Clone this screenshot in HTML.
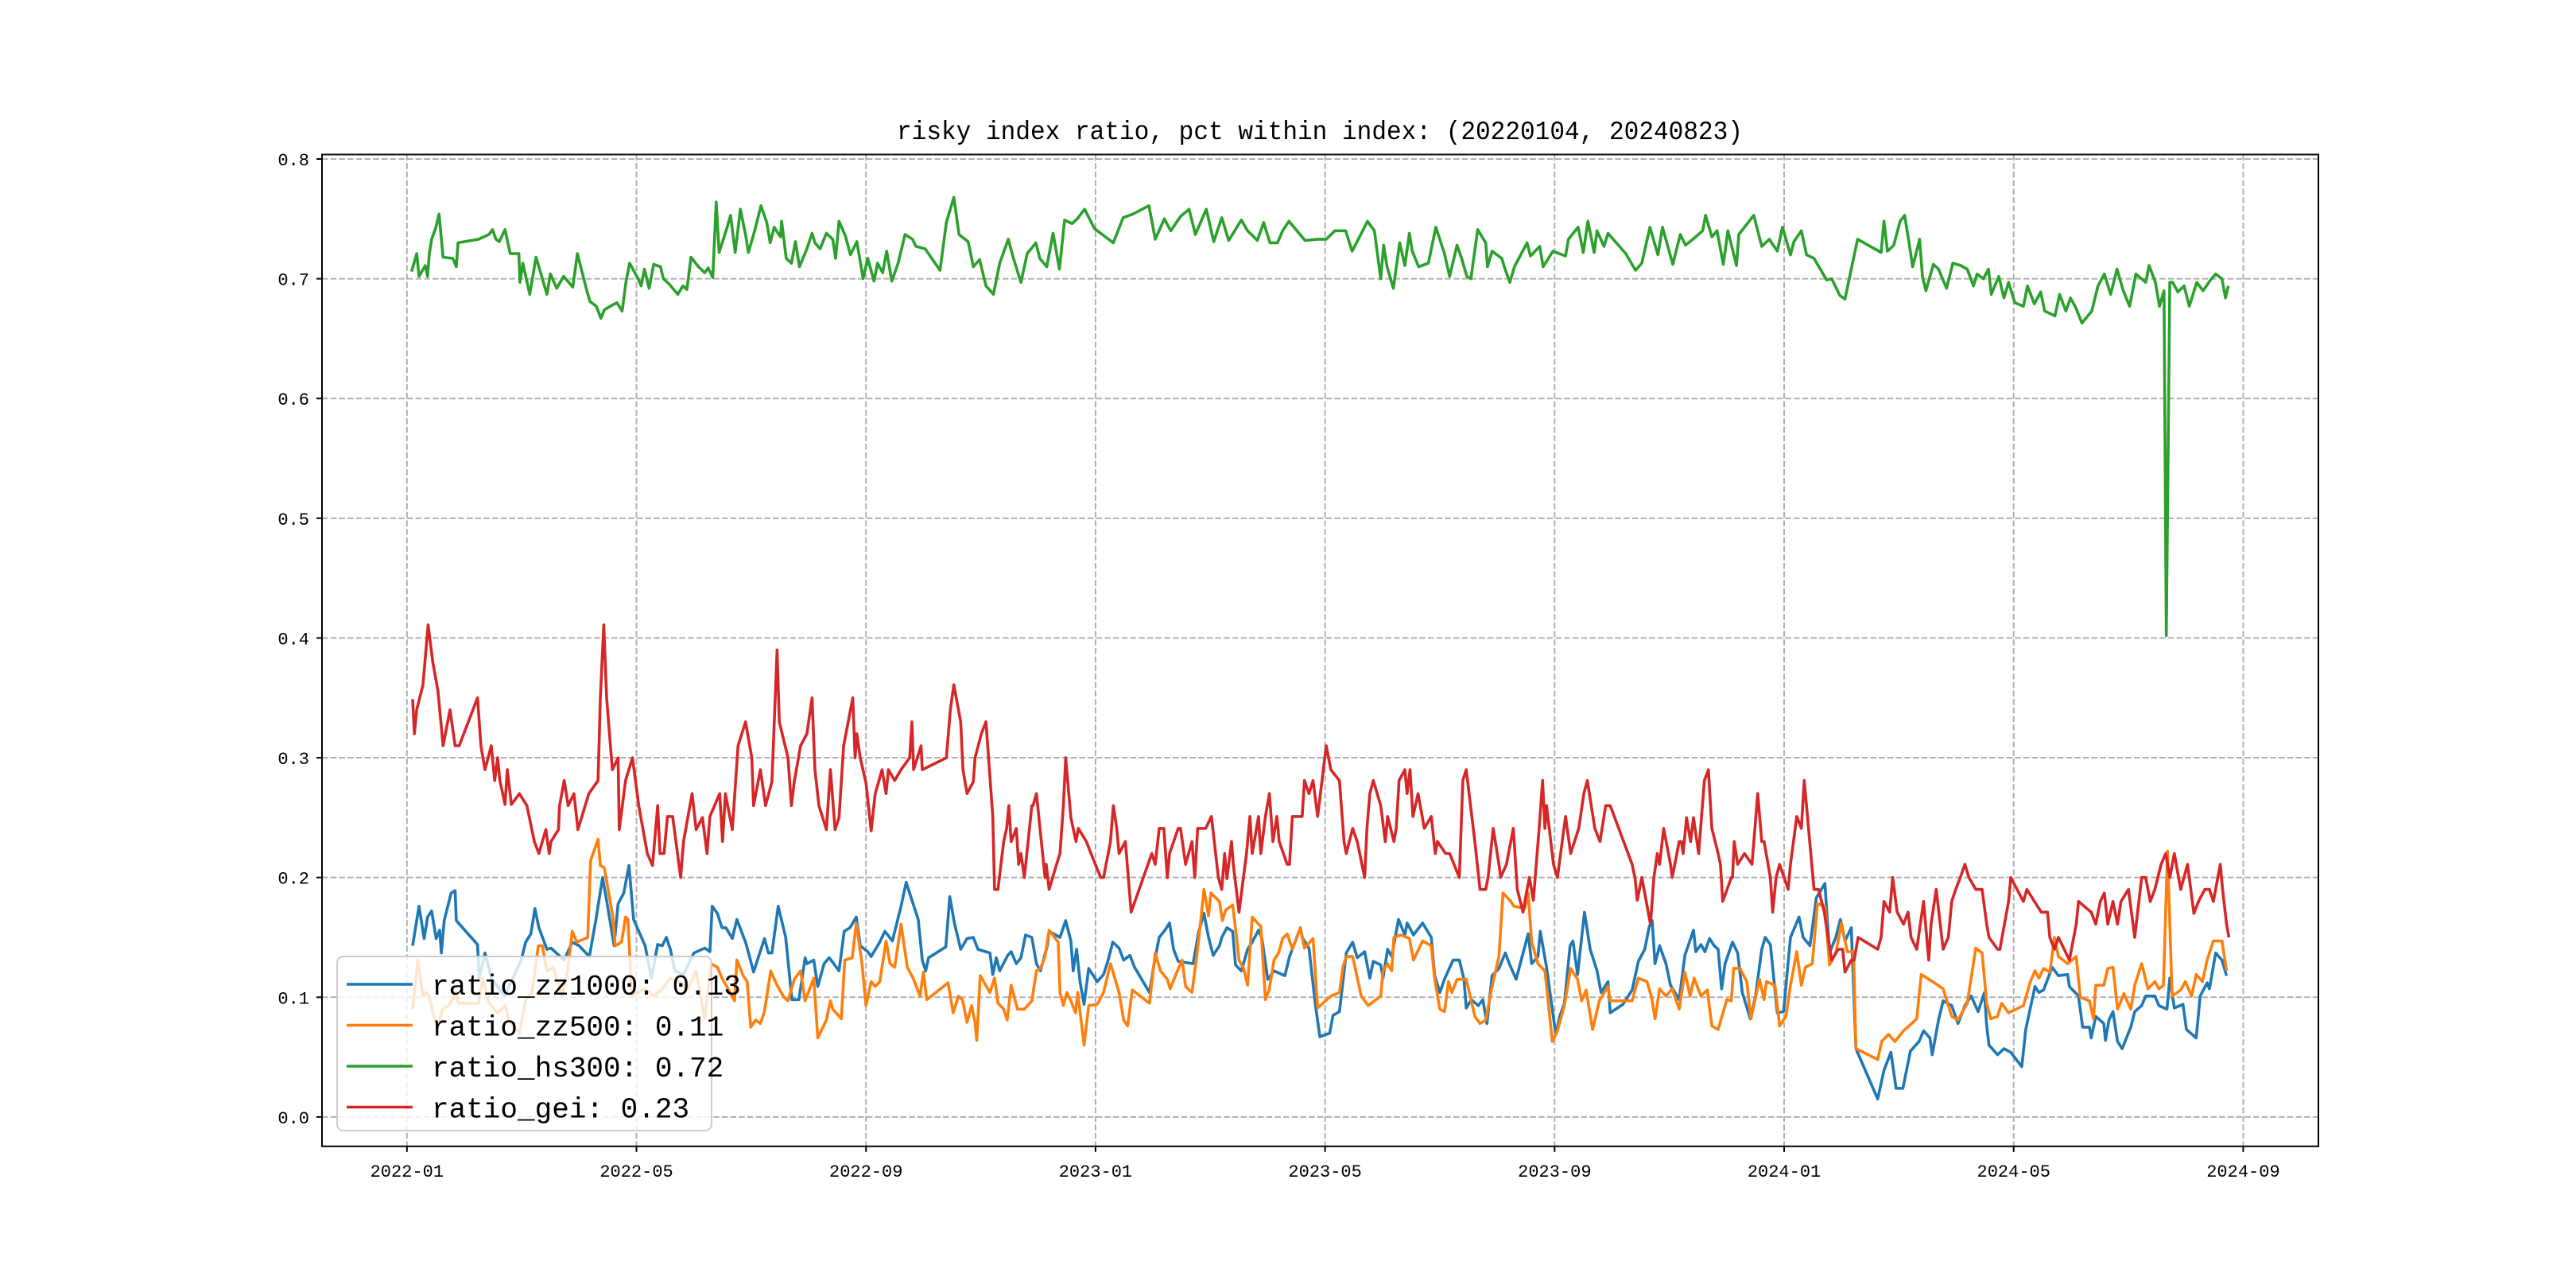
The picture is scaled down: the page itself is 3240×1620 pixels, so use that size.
<!DOCTYPE html>
<html><head><meta charset="utf-8">
<style>
html,body{margin:0;padding:0;background:#fff;}
svg{display:block;}
text{font-family:"Liberation Mono","Noto Sans CJK SC",monospace;}
</style></head>
<body>
<svg id="chart" width="3240" height="1620" viewBox="0 0 3240 1620" xmlns="http://www.w3.org/2000/svg">
<rect width="3240" height="1620" fill="#fff"/>
<text x="1660" y="175" text-anchor="middle" font-size="33" textLength="1064" lengthAdjust="spacingAndGlyphs" fill="#000">risky index ratio, pct within index: (20220104, 20240823)</text>
<g id="grid"></g>
<g id="series"></g>
<rect x="405" y="194.4" width="2511" height="1247.4" fill="none" stroke="#000" stroke-width="2"/>
<g id="ticks"></g>
<g id="legend"></g>
</svg>
<script>
// months since 2022-01-01
const xTickVals=[0,4,8,12,16,20,24,28,32];
const xTickLabels=["2022-01","2022-05","2022-09","2023-01","2023-05","2023-09","2024-01","2024-05","2024-09"];
const yTickVals=[0,0.1,0.2,0.3,0.4,0.5,0.6,0.7,0.8];
const yTickLabels=["0.0","0.1","0.2","0.3","0.4","0.5","0.6","0.7","0.8"];
const seriesNames=["ratio_zz1000: 0.13","ratio_zz500: 0.11","ratio_hs300: 0.72","ratio_gei: 0.23"];

const zz1000T=[.10,.21,.30,.36,.43,.51,.57,.60,.65,.77,.84,.86,1.23,1.26,1.36,1.47,1.70,1.99,2.07,2.16,2.23,2.30,2.44,2.51,2.74,2.88,3.00,3.18,3.29,3.41,3.49,3.61,3.68,3.78,3.87,3.95,4.15,4.26,4.37,4.45,4.52,4.59,4.67,4.82,5.00,5.19,5.28,5.32,5.41,5.49,5.56,5.67,5.75,5.90,5.97,6.04,6.23,6.30,6.36,6.47,6.60,6.71,6.83,6.94,6.97,7.09,7.16,7.27,7.36,7.53,7.62,7.72,7.83,7.90,8.03,8.09,8.24,8.33,8.46,8.61,8.70,8.80,8.91,8.98,9.04,9.09,9.39,9.46,9.54,9.65,9.76,9.87,9.95,10.16,10.21,10.27,10.33,10.47,10.53,10.62,10.70,10.78,10.89,10.97,11.04,11.16,11.19,11.38,11.48,11.57,11.61,11.67,11.73,11.80,11.88,12.03,12.14,12.22,12.30,12.41,12.49,12.60,12.68,12.94,13.02,13.11,13.21,13.29,13.36,13.44,13.70,13.80,13.89,13.97,14.05,14.16,14.20,14.29,14.39,14.44,14.54,14.65,14.73,14.84,14.90,15.00,15.11,15.30,15.38,15.57,15.60,15.72,15.83,15.91,16.08,16.14,16.25,16.37,16.48,16.56,16.69,16.78,16.84,16.97,17.01,17.09,17.16,17.28,17.39,17.43,17.54,17.70,17.85,17.91,18.00,18.08,18.23,18.34,18.42,18.46,18.55,18.67,18.75,18.82,18.91,19.03,19.14,19.22,19.33,19.44,19.54,19.60,19.71,19.75,19.86,20.02,20.09,20.17,20.27,20.32,20.40,20.52,20.62,20.74,20.81,20.93,20.97,21.19,21.35,21.46,21.57,21.65,21.70,21.75,21.83,21.94,22.02,22.17,22.27,22.42,22.46,22.55,22.62,22.70,22.78,22.85,22.91,22.97,23.10,23.19,23.27,23.41,23.50,23.61,23.67,23.76,23.88,23.99,24.11,24.26,24.33,24.45,24.56,24.71,24.79,24.90,24.98,25.06,25.17,25.25,25.63,25.74,25.86,25.95,26.07,26.20,26.35,26.43,26.54,26.58,26.69,26.77,26.92,27.03,27.15,27.26,27.38,27.49,27.53,27.57,27.72,27.83,27.95,28.14,28.21,28.37,28.44,28.52,28.67,28.78,28.94,28.97,29.13,29.20,29.32,29.35,29.43,29.57,29.60,29.66,29.73,29.81,29.89,30.04,30.11,30.23,30.30,30.46,30.53,30.67,30.72,30.80,30.95,31.01,31.18,31.25,31.37,31.41,31.52,31.63,31.71];
const zz1000V=[.143,.176,.149,.167,.172,.149,.156,.137,.164,.187,.189,.164,.144,.116,.137,.116,.101,.131,.146,.153,.174,.158,.140,.141,.131,.146,.143,.134,.164,.200,.178,.143,.178,.187,.210,.165,.143,.116,.144,.143,.150,.140,.122,.119,.137,.141,.138,.176,.170,.158,.158,.149,.165,.146,.134,.121,.149,.137,.137,.176,.150,.098,.098,.133,.128,.131,.109,.128,.133,.122,.155,.158,.167,.143,.138,.134,.146,.155,.147,.176,.196,.181,.165,.131,.122,.133,.142,.184,.162,.140,.149,.150,.140,.137,.119,.133,.122,.135,.138,.128,.133,.152,.150,.128,.122,.143,.155,.150,.164,.147,.122,.140,.113,.094,.124,.113,.119,.131,.146,.141,.131,.135,.125,.104,.128,.150,.156,.162,.140,.130,.128,.155,.170,.150,.135,.143,.150,.158,.155,.127,.122,.140,.146,.156,.149,.115,.122,.118,.134,.158,.150,.141,.094,.067,.070,.085,.088,.137,.146,.133,.138,.116,.130,.127,.116,.140,.134,.165,.152,.162,.152,.162,.150,.118,.104,.115,.131,.131,.115,.091,.098,.093,.098,.078,.118,.124,.137,.127,.115,.135,.153,.128,.134,.155,.125,.069,.084,.095,.143,.147,.119,.171,.140,.122,.104,.113,.087,.094,.106,.130,.140,.159,.164,.128,.143,.128,.110,.098,.135,.156,.138,.144,.138,.149,.143,.140,.107,.128,.146,.137,.104,.082,.101,.140,.150,.144,.087,.088,.150,.167,.150,.143,.183,.195,.137,.150,.165,.147,.158,.057,.015,.039,.054,.024,.024,.055,.063,.072,.066,.052,.081,.097,.093,.078,.093,.101,.088,.104,.076,.060,.052,.057,.054,.042,.073,.109,.104,.106,.125,.118,.119,.109,.101,.075,.075,.066,.084,.078,.064,.081,.088,.063,.057,.075,.088,.093,.101,.101,.093,.090,.116,.091,.094,.073,.066,.101,.112,.107,.137,.131,.118];

const zz500T=[.10,.19,.28,.34,.39,.45,.54,.62,.73,.86,.89,1.25,1.32,1.43,1.58,1.72,1.77,1.96,2.07,2.18,2.29,2.36,2.44,2.55,2.70,2.80,2.88,2.96,3.15,3.20,3.33,3.37,3.44,3.59,3.63,3.74,3.81,3.85,3.92,4.15,4.30,4.45,4.59,4.74,4.89,5.04,5.19,5.30,5.41,5.49,5.63,5.71,5.75,5.86,5.93,5.99,6.08,6.16,6.23,6.34,6.45,6.57,6.64,6.75,6.86,6.94,7.09,7.16,7.31,7.38,7.42,7.57,7.63,7.76,7.83,7.93,8.00,8.09,8.16,8.24,8.35,8.42,8.50,8.61,8.72,8.83,8.94,9.00,9.06,9.43,9.52,9.61,9.68,9.76,9.84,9.90,9.93,9.99,10.16,10.24,10.30,10.40,10.46,10.53,10.64,10.76,10.89,10.97,11.04,11.12,11.19,11.35,11.38,11.44,11.50,11.57,11.65,11.69,11.80,11.88,12.03,12.14,12.26,12.41,12.49,12.56,12.64,12.94,13.04,13.13,13.25,13.30,13.40,13.51,13.57,13.68,13.76,13.82,13.89,13.97,14.01,14.16,14.21,14.27,14.39,14.46,14.50,14.58,14.65,14.73,14.88,14.96,15.03,15.11,15.19,15.26,15.34,15.43,15.57,15.64,15.79,15.87,16.10,16.25,16.31,16.37,16.48,16.63,16.75,16.97,17.01,17.09,17.16,17.20,17.32,17.47,17.54,17.70,17.85,17.91,18.00,18.08,18.15,18.21,18.30,18.46,18.61,18.70,18.80,18.91,19.03,19.10,19.22,19.29,19.48,19.54,19.60,19.71,19.83,19.96,20.05,20.17,20.28,20.40,20.47,20.55,20.66,20.78,20.93,20.97,21.35,21.46,21.61,21.69,21.75,21.83,21.94,22.05,22.17,22.27,22.36,22.43,22.55,22.66,22.74,22.85,23.00,23.08,23.12,23.23,23.35,23.42,23.57,23.65,23.69,23.84,23.92,24.03,24.11,24.22,24.30,24.37,24.49,24.58,24.71,24.79,24.90,25.00,25.10,25.21,25.25,25.63,25.70,25.82,25.93,26.08,26.31,26.39,26.62,26.77,26.92,27.03,27.19,27.34,27.45,27.53,27.60,27.72,27.79,27.91,28.17,28.29,28.37,28.44,28.52,28.63,28.71,28.78,28.94,29.09,29.16,29.32,29.39,29.43,29.57,29.64,29.73,29.81,29.92,30.04,30.11,30.23,30.34,30.46,30.53,30.61,30.68,30.76,30.91,30.99,31.10,31.18,31.29,31.37,31.48,31.63,31.71];
const zz500V=[.090,.131,.101,.104,.101,.087,.075,.090,.093,.104,.095,.095,.116,.095,.087,.093,.081,.070,.098,.104,.143,.143,.122,.125,.101,.122,.155,.146,.150,.214,.232,.210,.208,.167,.143,.146,.167,.165,.101,.107,.101,.107,.116,.113,.107,.122,.082,.128,.125,.116,.104,.097,.131,.118,.113,.075,.081,.078,.088,.122,.110,.100,.097,.115,.122,.097,.116,.066,.081,.097,.090,.082,.131,.133,.162,.128,.093,.113,.109,.113,.147,.128,.125,.161,.125,.115,.101,.121,.098,.112,.087,.101,.098,.079,.093,.079,.064,.118,.104,.116,.095,.090,.081,.110,.090,.090,.097,.122,.124,.134,.156,.146,.104,.093,.104,.097,.087,.104,.060,.093,.094,.104,.128,.104,.081,.076,.106,.095,.137,.122,.115,.107,.119,.131,.109,.104,.133,.158,.190,.168,.187,.180,.164,.173,.177,.149,.131,.124,.110,.167,.159,.098,.107,.131,.137,.149,.153,.140,.158,.141,.149,.091,.101,.104,.125,.134,.134,.101,.093,.101,.122,.128,.122,.150,.152,.149,.131,.147,.143,.115,.090,.088,.113,.104,.115,.115,.084,.078,.081,.109,.134,.187,.181,.176,.174,.187,.146,.128,.122,.063,.072,.093,.124,.115,.097,.106,.073,.097,.109,.097,.097,.116,.113,.100,.082,.107,.101,.107,.090,.121,.101,.116,.101,.106,.076,.073,.098,.097,.124,.124,.113,.082,.115,.098,.113,.110,.076,.084,.110,.138,.110,.125,.128,.178,.176,.127,.137,.162,.138,.138,.057,.048,.063,.069,.063,.072,.082,.119,.112,.107,.084,.081,.095,.141,.137,.095,.082,.084,.095,.087,.093,.113,.122,.116,.124,.121,.150,.134,.128,.134,.100,.097,.082,.110,.110,.124,.125,.090,.103,.090,.110,.128,.107,.113,.107,.110,.222,.101,.106,.113,.101,.119,.113,.131,.147,.147,.122];

const hs300T=[.08,.17,.21,.32,.36,.39,.43,.50,.56,.63,.80,.86,.89,1.25,1.43,1.49,1.55,1.61,1.71,1.80,1.95,1.97,2.02,2.14,2.25,2.36,2.44,2.50,2.61,2.73,2.89,2.97,3.14,3.19,3.30,3.38,3.44,3.58,3.66,3.75,3.82,3.88,4.03,4.08,4.14,4.22,4.30,4.42,4.47,4.58,4.72,4.81,4.88,4.95,5.08,5.19,5.25,5.33,5.39,5.44,5.58,5.64,5.72,5.81,5.90,5.95,6.06,6.17,6.27,6.33,6.40,6.51,6.53,6.61,6.70,6.77,6.84,6.97,7.06,7.11,7.20,7.31,7.42,7.47,7.53,7.64,7.73,7.84,7.95,8.03,8.14,8.20,8.29,8.36,8.45,8.56,8.68,8.81,8.87,9.03,9.29,9.40,9.53,9.62,9.78,9.87,9.98,10.09,10.22,10.33,10.48,10.57,10.70,10.81,10.96,11.03,11.15,11.26,11.37,11.46,11.59,11.68,11.81,11.98,12.09,12.31,12.48,12.65,12.93,13.04,13.20,13.31,13.48,13.63,13.74,13.93,14.06,14.20,14.32,14.54,14.65,14.82,14.93,15.04,15.17,15.26,15.37,15.51,15.65,15.87,16.02,16.17,16.36,16.47,16.58,16.74,16.86,16.97,17.02,17.08,17.19,17.30,17.39,17.47,17.52,17.63,17.80,17.93,18.08,18.17,18.30,18.38,18.47,18.54,18.66,18.80,18.83,18.91,19.08,19.13,19.22,19.30,19.52,19.58,19.74,19.80,19.97,20.19,20.24,20.41,20.50,20.58,20.69,20.74,20.86,20.93,21.24,21.41,21.52,21.66,21.80,21.88,22.06,22.19,22.28,22.41,22.58,22.63,22.74,22.83,22.94,23.02,23.17,23.21,23.39,23.47,23.61,23.74,23.88,23.97,24.11,24.17,24.30,24.39,24.52,24.63,24.74,24.83,24.97,25.06,25.13,25.28,25.69,25.74,25.80,25.91,26.02,26.10,26.17,26.24,26.36,26.41,26.47,26.60,26.69,26.83,26.94,27.08,27.19,27.30,27.36,27.47,27.56,27.61,27.74,27.83,27.91,28.02,28.17,28.24,28.36,28.47,28.54,28.72,28.80,28.91,28.99,29.08,29.19,29.36,29.47,29.58,29.69,29.80,29.91,30.02,30.13,30.30,30.36,30.47,30.54,30.62,30.66,30.72,30.77,30.86,30.97,31.06,31.19,31.30,31.43,31.52,31.63,31.69,31.74];
const hs300V=[.706,.721,.702,.711,.702,.721,.733,.742,.754,.718,.717,.710,.730,.733,.737,.741,.733,.731,.741,.721,.721,.697,.713,.687,.718,.700,.687,.704,.692,.702,.693,.721,.689,.681,.677,.667,.674,.678,.680,.673,.698,.713,.700,.694,.708,.692,.712,.710,.700,.695,.687,.694,.691,.718,.710,.705,.709,.701,.764,.722,.743,.753,.722,.758,.737,.722,.740,.761,.747,.730,.743,.735,.748,.717,.713,.731,.710,.725,.738,.730,.725,.738,.733,.717,.748,.736,.720,.731,.700,.717,.698,.713,.705,.723,.698,.713,.737,.733,.727,.725,.707,.747,.768,.737,.731,.710,.716,.694,.687,.713,.733,.717,.697,.721,.730,.717,.710,.738,.708,.749,.746,.750,.758,.742,.738,.730,.751,.754,.761,.733,.750,.740,.752,.758,.737,.758,.731,.751,.732,.749,.740,.732,.747,.730,.730,.740,.748,.740,.732,.733,.733,.740,.740,.723,.733,.748,.740,.700,.728,.710,.692,.730,.711,.738,.723,.710,.713,.743,.721,.702,.728,.717,.702,.700,.741,.730,.710,.723,.717,.709,.697,.710,.730,.719,.727,.710,.723,.719,.733,.743,.722,.748,.722,.740,.727,.738,.721,.707,.713,.743,.720,.743,.712,.737,.728,.733,.740,.753,.735,.740,.712,.740,.711,.737,.748,.753,.727,.733,.723,.743,.720,.731,.740,.720,.717,.708,.699,.700,.686,.683,.699,.733,.722,.748,.723,.728,.748,.753,.732,.710,.733,.702,.690,.712,.708,.692,.713,.711,.708,.694,.704,.700,.708,.687,.702,.684,.697,.680,.677,.694,.679,.689,.673,.669,.687,.673,.684,.676,.663,.673,.694,.704,.687,.708,.690,.677,.704,.697,.711,.697,.677,.690,.402,.697,.697,.689,.694,.677,.697,.690,.699,.704,.700,.684,.694];

const geiT=[.10,.13,.17,.28,.37,.45,.54,.63,.75,.84,.91,1.23,1.29,1.36,1.47,1.53,1.58,1.62,1.71,1.75,1.82,1.96,2.09,2.22,2.30,2.42,2.48,2.51,2.64,2.66,2.74,2.81,2.91,2.98,3.17,3.33,3.37,3.43,3.48,3.58,3.68,3.70,3.81,3.93,4.04,4.19,4.28,4.37,4.41,4.48,4.54,4.63,4.77,4.82,4.97,5.04,5.15,5.23,5.28,5.45,5.50,5.55,5.67,5.77,5.90,6.01,6.04,6.16,6.25,6.36,6.45,6.49,6.64,6.70,6.75,6.86,6.97,7.06,7.11,7.18,7.31,7.38,7.46,7.53,7.61,7.77,7.81,7.84,7.90,8.00,8.09,8.16,8.28,8.35,8.39,8.50,8.61,8.76,8.80,8.83,8.96,8.98,9.40,9.47,9.53,9.65,9.69,9.76,9.87,9.90,10.01,10.09,10.21,10.24,10.30,10.40,10.45,10.49,10.53,10.62,10.66,10.70,10.76,10.89,10.91,10.97,11.12,11.14,11.19,11.32,11.38,11.44,11.48,11.57,11.61,11.66,11.70,11.84,11.92,12.09,12.14,12.26,12.31,12.37,12.41,12.52,12.62,12.98,13.04,13.11,13.19,13.25,13.29,13.44,13.48,13.57,13.68,13.73,13.78,13.92,14.02,14.14,14.20,14.25,14.29,14.37,14.40,14.50,14.63,14.69,14.73,14.84,14.88,14.96,15.03,15.09,15.16,15.20,15.34,15.38,15.43,15.60,15.64,15.72,15.79,15.87,16.02,16.10,16.25,16.33,16.37,16.48,16.56,16.69,16.73,16.78,16.84,16.97,17.05,17.09,17.20,17.24,17.29,17.39,17.43,17.48,17.53,17.62,17.73,17.85,17.92,17.96,18.10,18.17,18.34,18.40,18.46,18.61,18.70,18.80,18.84,18.93,19.03,19.06,19.16,19.28,19.35,19.45,19.52,19.56,19.63,19.73,19.79,19.83,19.86,19.98,20.05,20.19,20.28,20.42,20.51,20.57,20.70,20.79,20.89,20.97,21.35,21.40,21.44,21.52,21.67,21.73,21.79,21.83,21.90,22.02,22.05,22.17,22.21,22.24,22.30,22.37,22.42,22.51,22.61,22.68,22.74,22.85,22.89,22.93,23.08,23.10,23.13,23.19,23.31,23.44,23.54,23.61,23.65,23.76,23.80,23.86,23.92,24.07,24.11,24.22,24.30,24.35,24.52,24.60,24.70,24.73,24.83,24.94,25.02,25.06,25.17,25.22,25.29,25.63,25.69,25.74,25.84,25.89,25.97,26.08,26.16,26.21,26.31,26.43,26.52,26.56,26.65,26.77,26.86,26.92,26.99,27.07,27.15,27.22,27.34,27.45,27.53,27.57,27.72,27.76,27.91,27.95,28.17,28.23,28.48,28.59,28.63,28.71,28.78,28.88,28.97,29.09,29.13,29.35,29.43,29.51,29.58,29.64,29.73,29.81,29.87,30.00,30.11,30.23,30.30,30.38,30.46,30.57,30.65,30.72,30.80,30.91,31.03,31.14,31.22,31.33,31.41,31.48,31.60,31.64,31.71,31.75];
const geiV=[.349,.320,.340,.361,.411,.380,.356,.310,.340,.310,.310,.350,.310,.290,.310,.281,.300,.281,.261,.290,.261,.270,.260,.230,.220,.240,.220,.230,.240,.260,.281,.260,.270,.240,.270,.281,.350,.411,.350,.290,.300,.240,.281,.300,.260,.220,.210,.260,.220,.220,.251,.251,.200,.230,.270,.240,.250,.220,.251,.270,.230,.270,.240,.310,.330,.300,.260,.290,.260,.280,.390,.330,.300,.260,.280,.310,.320,.350,.290,.260,.240,.290,.240,.250,.310,.350,.300,.320,.300,.279,.239,.270,.290,.270,.290,.281,.290,.300,.330,.290,.310,.290,.300,.340,.361,.330,.290,.270,.280,.300,.320,.330,.251,.190,.190,.230,.241,.260,.230,.241,.211,.220,.200,.260,.260,.270,.200,.211,.190,.211,.220,.260,.300,.250,.241,.230,.241,.230,.220,.200,.200,.230,.260,.241,.220,.230,.171,.220,.211,.241,.241,.200,.220,.241,.241,.211,.230,.200,.241,.241,.251,.200,.190,.220,.199,.230,.211,.171,.220,.251,.220,.251,.220,.251,.270,.230,.251,.230,.211,.211,.251,.251,.281,.270,.281,.251,.310,.290,.281,.230,.220,.241,.230,.200,.241,.270,.281,.260,.230,.251,.230,.241,.281,.290,.270,.290,.251,.270,.241,.251,.220,.230,.220,.220,.200,.281,.290,.230,.190,.190,.200,.241,.211,.200,.211,.241,.190,.171,.190,.200,.181,.241,.281,.241,.260,.211,.200,.251,.220,.241,.270,.281,.241,.230,.260,.260,.211,.200,.181,.200,.161,.200,.220,.211,.241,.211,.200,.230,.230,.220,.250,.230,.250,.220,.281,.290,.241,.220,.211,.180,.200,.200,.230,.211,.220,.211,.270,.230,.230,.200,.171,.200,.211,.190,.211,.251,.241,.281,.190,.190,.171,.161,.131,.140,.140,.121,.131,.131,.150,.140,.150,.180,.171,.200,.171,.161,.171,.150,.140,.180,.131,.161,.190,.140,.150,.180,.190,.200,.211,.200,.190,.190,.161,.150,.140,.140,.180,.200,.180,.190,.171,.171,.150,.140,.150,.140,.131,.161,.180,.171,.161,.180,.187,.161,.180,.161,.180,.190,.150,.200,.200,.180,.190,.211,.220,.200,.220,.190,.211,.170,.180,.190,.190,.180,.211,.190,.161,.150,.161];

const NS='http://www.w3.org/2000/svg';
const L=405,R=2916,T=194.4,B=1441.8;
const xMin=-1.48,xMax=33.31,yMin=-0.0245,yMax=0.8037;
function xs(t){return L+(t-xMin)/(xMax-xMin)*(R-L);}
function ys(v){return B-(v-yMin)/(yMax-yMin)*(B-T);}
function mk(tag,attrs,parent){const e=document.createElementNS(NS,tag);for(const k in attrs)e.setAttribute(k,attrs[k]);parent.appendChild(e);return e;}

const grid=document.getElementById('grid');
const ticks=document.getElementById('ticks');
xTickVals.forEach((t,i)=>{
  const x=xs(t);
  const g=mk('line',{x1:x,x2:x,y1:T,y2:B,stroke:'#b0b0b0','stroke-width':2,'stroke-dasharray':'7.5,3.2'},grid);
  
  
  const tk=mk('line',{x1:x,x2:x,y1:B,y2:B+7,stroke:'#000','stroke-width':2},ticks);
  
  
  const lb=mk('text',{x:x,y:B+38,'text-anchor':'middle','font-size':22,fill:'#000'},ticks);
  lb.textContent=xTickLabels[i];
  
  
});
yTickVals.forEach((v,i)=>{
  const y=ys(v);
  const g=mk('line',{x1:L,x2:R,y1:y,y2:y,stroke:'#b0b0b0','stroke-width':2,'stroke-dasharray':'7.5,3.2'},grid);
  
  
  const tk=mk('line',{x1:L-7,x2:L,y1:y,y2:y,stroke:'#000','stroke-width':2},ticks);
  
  
  const lb=mk('text',{x:L-16,y:y+8,'text-anchor':'end','font-size':22,fill:'#000'},ticks);
  lb.textContent=yTickLabels[i];
  
  
});

const colors=['#1f77b4','#ff7f0e','#2ca02c','#d62728'];
const allT=[zz1000T,zz500T,hs300T,geiT];
const allV=[zz1000V,zz500V,hs300V,geiV];
const lineNames=['line-zz1000','line-zz500','line-hs300','line-gei'];
const series=document.getElementById('series');
allT.forEach((ts,k)=>{
  const vs=allV[k];
  const n=Math.min(ts.length,vs.length);
  let d='';
  for(let i=0;i<n;i++){d+=(i?'L':'M')+xs(ts[i]).toFixed(1)+','+ys(vs[i]).toFixed(1);}
  const p=mk('path',{d:d,fill:'none',stroke:colors[k],'stroke-width':3.6,'stroke-linejoin':'round'},series);
  
  
});

const legend=document.getElementById('legend');


const box=mk('rect',{x:424,y:1203,width:471,height:219,rx:8,fill:'#fff','fill-opacity':0.8,stroke:'#cccccc','stroke-width':2},legend);


seriesNames.forEach((nm,i)=>{
  const y=1238+i*51.5;
  const ln=mk('line',{x1:436,x2:519,y1:y,y2:y,stroke:colors[i],'stroke-width':3.6},legend);
  
  
  const tx=mk('text',{x:543,y:y+13,'font-size':36,fill:'#000'},legend);
  tx.textContent=nm;
  
  
});
</script>
</body></html>
